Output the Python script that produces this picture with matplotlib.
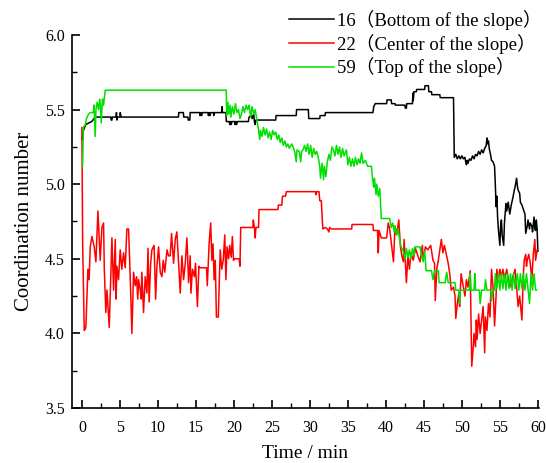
import matplotlib
matplotlib.use("Agg")
import matplotlib.pyplot as plt

# coordination number of three particles vs time (min, value)
bottom_16 = [
    (0.0, 5.30), (0.2, 5.36), (0.5, 5.40), (0.9, 5.41), (1.3, 5.42), (1.6, 5.44), (1.75, 5.45),
    (3.8, 5.45), (3.85, 5.43), (3.95, 5.43), (4.0, 5.45),
    (4.5, 5.45), (4.55, 5.48), (4.6, 5.43), (4.7, 5.45),
    (5.0, 5.45), (5.05, 5.48), (5.15, 5.45),
    (12.7, 5.45), (12.75, 5.48), (13.35, 5.48), (13.4, 5.45),
    (13.95, 5.45), (14.0, 5.43), (14.2, 5.43), (14.25, 5.48),
    (15.5, 5.48), (15.55, 5.46), (15.65, 5.48), (15.75, 5.46), (15.85, 5.48),
    (16.6, 5.48), (16.65, 5.46), (16.75, 5.48), (16.85, 5.46), (16.95, 5.48),
    (17.3, 5.48), (17.35, 5.46), (17.45, 5.48),
    (18.4, 5.48), (18.45, 5.52), (18.5, 5.48),
    (18.95, 5.48), (19.0, 5.42), (19.4, 5.42), (19.45, 5.40), (19.55, 5.42), (19.65, 5.40),
    (19.75, 5.42), (20.1, 5.42), (20.15, 5.40), (20.25, 5.42), (20.35, 5.40), (20.45, 5.42),
    (21.9, 5.42), (22.0, 5.45), (22.3, 5.46), (22.4, 5.44), (22.6, 5.47), (22.7, 5.42),
    (22.8, 5.40), (22.9, 5.43),
    (25.5, 5.43), (25.55, 5.46), (28.2, 5.46), (28.25, 5.50), (29.8, 5.50), (29.85, 5.44),
    (31.3, 5.44), (31.35, 5.46), (32.0, 5.46), (32.05, 5.48),
    (38.3, 5.48), (38.4, 5.52), (38.6, 5.54), (40.1, 5.54), (40.15, 5.565), (40.7, 5.565),
    (40.75, 5.54), (41.2, 5.54), (41.25, 5.53), (42.5, 5.53), (42.55, 5.51), (42.7, 5.51),
    (42.75, 5.54), (43.5, 5.54), (43.55, 5.61), (43.6, 5.56), (43.7, 5.62), (44.0, 5.62),
    (44.05, 5.635), (45.1, 5.635), (45.15, 5.66), (45.6, 5.66), (45.65, 5.62), (46.0, 5.62),
    (46.05, 5.60), (47.1, 5.60), (47.15, 5.58), (48.9, 5.58), (49.0, 5.18),
    (49.2, 5.20), (49.4, 5.17), (49.6, 5.19), (49.8, 5.17), (50.0, 5.19), (50.2, 5.17),
    (50.4, 5.18), (50.5, 5.15), (50.6, 5.13), (50.7, 5.16), (50.8, 5.14), (51.0, 5.17),
    (51.2, 5.16), (51.4, 5.19), (51.6, 5.17), (51.8, 5.20), (52.0, 5.19), (52.2, 5.22),
    (52.4, 5.20), (52.6, 5.23), (52.8, 5.21), (53.0, 5.24), (53.2, 5.26), (53.3, 5.31),
    (53.4, 5.27), (53.5, 5.29), (53.6, 5.24), (53.8, 5.19), (53.9, 5.16), (54.1, 5.15),
    (54.3, 5.12), (54.4, 5.00), (54.5, 4.85), (54.6, 4.92), (54.7, 4.78), (54.8, 4.70),
    (55.0, 4.59), (55.1, 4.72), (55.2, 4.76), (55.3, 4.66), (55.5, 4.59), (55.6, 4.74),
    (55.8, 4.87), (55.9, 4.82), (56.1, 4.88), (56.3, 4.80), (56.5, 4.86), (56.75, 4.92),
    (56.9, 4.96), (57.0, 4.98), (57.2, 5.04), (57.3, 4.99), (57.4, 4.96), (57.6, 4.94),
    (57.7, 4.88), (57.9, 4.86), (58.1, 4.83), (58.3, 4.80), (58.4, 4.67), (58.6, 4.72),
    (58.7, 4.76), (58.9, 4.70), (59.0, 4.74), (59.2, 4.72), (59.3, 4.68), (59.5, 4.78),
    (59.6, 4.70), (59.7, 4.69), (59.8, 4.76), (59.9, 4.70), (60.0, 4.55),
]

center_22 = [
    (0.0, 5.38), (0.1, 4.60), (0.31, 4.02), (0.45, 4.03), (0.53, 4.05), (0.79, 4.43),
    (0.95, 4.36), (1.1, 4.58), (1.32, 4.65), (1.62, 4.58), (1.84, 4.48), (2.11, 4.82),
    (2.41, 4.49), (2.63, 4.71), (2.85, 4.74), (2.95, 4.43), (3.15, 4.14), (3.3, 4.29),
    (3.6, 4.04), (3.95, 4.64), (4.17, 4.29), (4.39, 4.63), (4.5, 4.23), (4.61, 4.45),
    (4.82, 4.36), (5.04, 4.56), (5.26, 4.43), (5.48, 4.54), (5.7, 4.44), (5.92, 4.70),
    (6.14, 4.70), (6.3, 4.47), (6.45, 4.22), (6.58, 4.00), (6.8, 4.41), (7.02, 4.32),
    (7.2, 4.38), (7.35, 4.23), (7.46, 4.36), (7.68, 4.29), (7.8, 4.23), (7.89, 4.41),
    (8.11, 4.14), (8.33, 4.38), (8.55, 4.27), (8.7, 4.57), (8.85, 4.21), (9.05, 4.47),
    (9.21, 4.56), (9.5, 4.59), (9.7, 4.23), (9.87, 4.45), (10.09, 4.58), (10.31, 4.41),
    (10.53, 4.38), (10.7, 4.49), (10.9, 4.41), (11.2, 4.56), (11.4, 4.52), (11.62, 4.52),
    (11.8, 4.67), (12.06, 4.47), (12.28, 4.63), (12.5, 4.68), (12.6, 4.58), (12.75, 4.45),
    (12.94, 4.27), (13.16, 4.52), (13.38, 4.36), (13.6, 4.47), (13.82, 4.64), (14.04, 4.34),
    (14.25, 4.52), (14.35, 4.27), (14.55, 4.43), (14.8, 4.38), (14.95, 4.47), (15.2, 4.18),
    (15.4, 4.45), (15.55, 4.44), (16.4, 4.44), (16.5, 4.32), (16.75, 4.61), (16.95, 4.74),
    (17.1, 4.49), (17.25, 4.60), (17.4, 4.36), (17.55, 4.49), (17.7, 4.11), (17.95, 4.11),
    (18.2, 4.56), (18.4, 4.43), (18.6, 4.49), (18.8, 4.66), (18.95, 4.36), (19.1, 4.58),
    (19.3, 4.50), (19.45, 4.59), (19.65, 4.51), (19.8, 4.65), (19.95, 4.49), (20.1, 4.50),
    (20.7, 4.50), (20.8, 4.45), (20.9, 4.71), (22.5, 4.71), (22.55, 4.76), (22.7, 4.71),
    (22.8, 4.64), (22.9, 4.71), (23.25, 4.71), (23.3, 4.83), (25.8, 4.83), (25.85, 4.86),
    (26.3, 4.86), (26.4, 4.92), (26.8, 4.92), (26.9, 4.95), (30.7, 4.95), (30.8, 4.93),
    (30.9, 4.95), (31.2, 4.95), (31.3, 4.89), (31.5, 4.89), (31.7, 4.70), (32.0, 4.71),
    (32.3, 4.70), (32.5, 4.68), (32.6, 4.71), (32.85, 4.70), (35.5, 4.70), (35.55, 4.73),
    (38.3, 4.73), (38.35, 4.69), (38.9, 4.69), (39.0, 4.54), (39.1, 4.69), (39.4, 4.64),
    (40.1, 4.64), (40.3, 4.74), (40.5, 4.70), (41.0, 4.48), (41.2, 4.72), (41.4, 4.66),
    (41.7, 4.76), (41.9, 4.59), (42.1, 4.52), (42.3, 4.48), (42.4, 4.63), (42.7, 4.34),
    (42.9, 4.52), (43.1, 4.43), (43.3, 4.54), (43.6, 4.49), (43.9, 4.57), (44.2, 4.52),
    (44.5, 4.48), (44.8, 4.59), (44.9, 4.49), (45.2, 4.58), (45.5, 4.56), (45.9, 4.59),
    (46.2, 4.49), (46.4, 4.47), (46.5, 4.22), (46.7, 4.43), (46.9, 4.49), (47.3, 4.63),
    (47.5, 4.54), (47.7, 4.59), (48.0, 4.52), (48.2, 4.47), (48.4, 4.40), (48.6, 4.29),
    (48.9, 4.31), (49.1, 4.25), (49.2, 4.10), (49.4, 4.20), (49.6, 4.27), (49.7, 4.18),
    (49.9, 4.40), (50.2, 4.31), (50.4, 4.25), (50.6, 4.36), (50.8, 4.31), (51.1, 4.42),
    (51.3, 3.78), (51.5, 3.91), (51.6, 4.00), (51.8, 3.91), (51.9, 4.09), (52.0, 3.96),
    (52.2, 4.13), (52.4, 4.00), (52.6, 4.09), (52.8, 4.18), (53.0, 3.87), (53.1, 4.11),
    (53.3, 4.02), (53.5, 4.20), (53.7, 4.11), (53.9, 4.43), (54.1, 4.31), (54.3, 4.05),
    (54.5, 4.25), (54.6, 4.43), (54.8, 4.36), (55.0, 4.43), (55.2, 4.38), (55.4, 4.43),
    (55.6, 4.36), (55.9, 4.43), (56.3, 4.31), (56.7, 4.38), (57.0, 4.43), (57.2, 4.31),
    (57.4, 4.18), (57.6, 4.25), (57.9, 4.09), (58.1, 4.40), (58.2, 4.49), (58.4, 4.53),
    (58.5, 4.45), (58.6, 4.49), (58.8, 4.53), (59.0, 4.47), (59.2, 4.36), (59.4, 4.53),
    (59.6, 4.63), (59.7, 4.49), (59.9, 4.56),
]

top_59 = [
    (0.09, 5.12), (0.2, 5.38), (0.45, 5.40), (0.6, 5.44), (0.88, 5.47), (1.1, 5.48),
    (1.5, 5.48), (1.6, 5.53), (1.75, 5.32), (1.85, 5.50), (2.0, 5.55), (2.2, 5.50),
    (2.35, 5.57), (2.45, 5.52), (2.55, 5.41), (2.7, 5.57), (2.85, 5.53), (3.0, 5.60),
    (3.07, 5.63), (19.0, 5.63), (19.05, 5.46),
    (19.2, 5.55), (19.35, 5.47), (19.5, 5.53), (19.6, 5.45), (19.8, 5.52), (20.0, 5.47),
    (20.2, 5.54), (20.4, 5.48), (20.6, 5.50), (20.8, 5.44), (21.0, 5.47), (21.2, 5.52),
    (21.4, 5.48), (21.6, 5.53), (21.8, 5.50), (22.0, 5.53), (22.2, 5.45), (22.4, 5.52),
    (22.6, 5.47), (22.8, 5.50), (23.0, 5.44),
    (23.2, 5.38), (23.4, 5.30), (23.5, 5.36), (23.7, 5.32), (23.9, 5.38), (24.1, 5.33),
    (24.3, 5.37), (24.5, 5.31), (24.7, 5.35), (24.9, 5.30), (25.1, 5.36), (25.3, 5.33),
    (25.5, 5.35), (25.7, 5.30), (25.9, 5.33),
    (26.1, 5.28), (26.3, 5.31), (26.5, 5.26), (26.7, 5.29), (26.9, 5.25), (27.1, 5.27),
    (27.3, 5.24), (27.6, 5.27), (27.8, 5.25),
    (28.0, 5.22), (28.2, 5.15), (28.3, 5.23), (28.6, 5.22), (28.8, 5.15), (28.9, 5.22),
    (29.1, 5.23), (29.3, 5.26), (29.5, 5.22), (29.7, 5.27), (29.9, 5.20), (30.1, 5.26),
    (30.3, 5.18), (30.5, 5.24), (30.7, 5.20),
    (30.9, 5.22), (31.1, 5.18), (31.3, 5.12), (31.4, 5.04), (31.6, 5.14), (31.8, 5.03),
    (31.9, 5.12), (32.1, 5.05), (32.3, 5.15), (32.5, 5.20), (32.7, 5.16), (32.9, 5.25),
    (33.1, 5.23), (33.3, 5.19), (33.5, 5.26), (33.7, 5.20), (33.9, 5.25), (34.1, 5.18),
    (34.3, 5.24), (34.5, 5.19), (34.8, 5.23), (35.0, 5.13), (35.2, 5.18), (35.4, 5.12),
    (35.6, 5.17), (35.8, 5.12), (36.0, 5.18), (36.2, 5.13), (36.4, 5.17), (36.6, 5.14),
    (36.8, 5.21), (37.0, 5.14), (37.3, 5.16), (37.6, 5.12), (38.1, 5.12), (38.2, 5.06),
    (38.4, 4.98), (38.5, 5.04), (38.7, 4.93), (38.8, 5.00), (39.0, 4.92), (39.2, 4.97),
    (39.4, 4.77), (40.5, 4.77), (40.7, 4.71), (40.9, 4.74), (41.1, 4.68), (41.2, 4.72),
    (41.4, 4.66), (41.6, 4.70), (41.8, 4.63), (42.0, 4.58),
    (42.3, 4.55), (42.5, 4.50), (42.7, 4.57), (42.9, 4.51), (43.1, 4.56), (43.3, 4.50),
    (43.5, 4.57), (43.7, 4.52), (43.8, 4.58), (44.5, 4.58), (44.7, 4.52), (44.9, 4.48),
    (45.1, 4.55), (45.3, 4.42), (46.0, 4.42), (46.2, 4.36), (46.4, 4.42), (46.9, 4.42),
    (47.0, 4.34), (47.8, 4.34), (48.0, 4.41), (48.2, 4.34), (49.1, 4.34), (49.2, 4.29),
    (49.6, 4.29), (49.7, 4.20), (49.8, 4.29), (51.0, 4.29), (51.1, 4.40), (51.2, 4.29),
    (51.6, 4.29), (51.7, 4.40), (51.8, 4.29), (52.3, 4.29), (52.4, 4.20), (52.6, 4.29),
    (53.0, 4.29), (53.1, 4.36), (53.3, 4.29), (53.8, 4.29), (53.9, 4.22), (54.1, 4.29),
    (54.3, 4.29), (54.4, 4.40), (54.6, 4.30), (54.8, 4.40), (55.0, 4.29), (55.2, 4.40),
    (55.4, 4.30), (55.6, 4.40), (55.8, 4.29), (56.0, 4.40), (56.2, 4.30), (56.4, 4.40),
    (56.6, 4.29), (56.8, 4.40), (57.0, 4.30), (57.3, 4.40), (57.5, 4.29), (57.7, 4.40),
    (57.9, 4.30), (58.1, 4.40), (58.3, 4.29), (58.5, 4.40), (58.7, 4.30), (58.9, 4.20),
    (59.1, 4.40), (59.3, 4.29), (59.5, 4.40), (59.7, 4.29), (59.8, 4.29),
]

labels = ["16（Bottom of the slope）", "22（Center of the slope）", "59（Top of the slope）"]
colors = ["black", "#ff0000", "#00e000"]

plt.rcParams['font.family'] = ['Liberation Serif', 'Noto Sans CJK SC']

fig = plt.figure(figsize=(5.46, 4.63), dpi=100)
ax = fig.add_axes([0.1319, 0.1188, 0.8546, 0.8056])

for series, lab, c in zip([bottom_16, center_22, top_59], labels, colors):
    t = [p[0] for p in series]
    v = [p[1] for p in series]
    ax.plot(t, v, color=c, lw=1.1, label=lab)

ax.set_xlim(-1.3, 60.1)
ax.set_ylim(3.5, 6.0)
ax.set_xticks(range(0, 61, 5))
ax.set_xticks([x + 2.5 for x in range(0, 60, 5)], minor=True)
ax.set_yticks([3.5, 4.0, 4.5, 5.0, 5.5, 6.0])
ax.set_yticks([3.75, 4.25, 4.75, 5.25, 5.75], minor=True)
ax.yaxis.set_major_formatter(matplotlib.ticker.FormatStrFormatter('%.1f'))

for s in ['top', 'right']:
    ax.spines[s].set_visible(False)
for s in ['left', 'bottom']:
    ax.spines[s].set_linewidth(1.2)

ax.tick_params(which='major', direction='in', length=6, width=1.2, labelsize=11.5)
ax.tick_params(which='minor', direction='in', length=3.5, width=1.0)
ax.tick_params(axis='x', pad=9)
ax.tick_params(axis='y', pad=5)

ax.set_xlabel("Time / min", fontsize=14, labelpad=6)
ax.set_ylabel("Coordination number", fontsize=15, labelpad=8)

fig.legend(loc='upper left', bbox_to_anchor=(0.515, 0.995), frameon=False,
           fontsize=13.5, handlelength=2.4, handletextpad=0.15, labelspacing=0.2,
           borderaxespad=0)

fig.savefig("out.png", dpi=100)
